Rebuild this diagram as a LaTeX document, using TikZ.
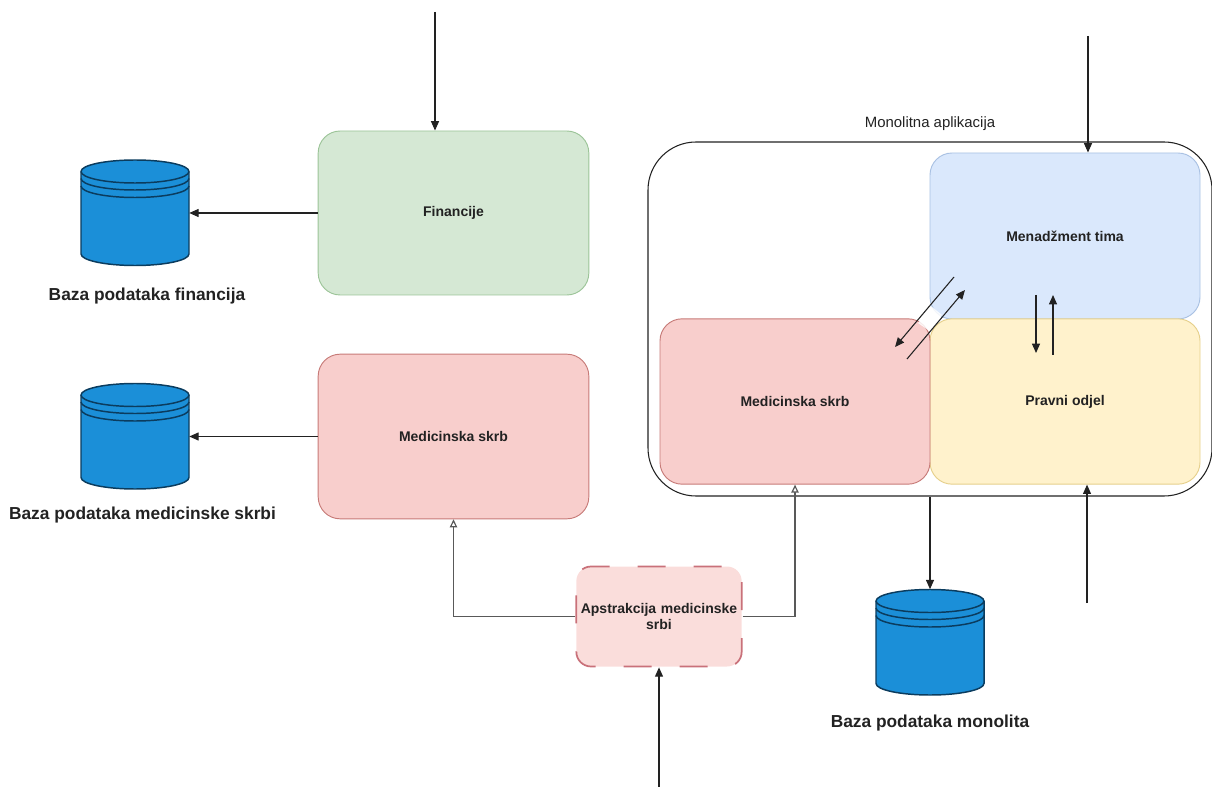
\documentclass[tikz,border=0pt]{standalone}
\usepackage{fontspec}
\setmainfont{Liberation Sans}
\usetikzlibrary{arrows.meta}
\definecolor{grF}{HTML}{D5E8D4}\definecolor{grD}{HTML}{9CC498}
\definecolor{reF}{HTML}{F8CECC}\definecolor{reD}{HTML}{C77B78}
\definecolor{blF}{HTML}{DAE8FC}\definecolor{blD}{HTML}{A9C1E3}
\definecolor{yeF}{HTML}{FFF2CC}\definecolor{yeD}{HTML}{E6D08C}
\definecolor{abF}{HTML}{FADDDB}\definecolor{abD}{HTML}{C9717A}
\definecolor{dbF}{HTML}{1B8FD8}\definecolor{dbD}{HTML}{0B3C5E}
\definecolor{ink}{HTML}{222222}
\tikzset{
  x=0.75pt,y=-0.75pt,
  boxbase/.style={rounded corners=16.5pt,inner sep=0pt,line width=0.7pt,text=ink,
    font=\fontsize{10.5}{12.5}\selectfont\bfseries,align=center},
  cyl/.style={draw=dbD,fill=dbF,line width=1.1pt},
  dbnode/.style={minimum width=81pt,minimum height=79.5pt,inner sep=0pt},
  dblabel/.style={font=\fontsize{13}{15}\selectfont\bfseries,text=ink,inner sep=0pt},
  conn/.style={draw=ink,line width=0.8pt,-{Triangle[length=7pt,width=6pt]}},
  inh/.style={draw=ink!75,line width=0.9pt,-{Triangle[open,fill=white,length=6pt,width=5.5pt]}},
}
\newcommand{\dbdraw}[1]{%
  \begin{scope}[shift={(#1.center)}]
    \draw[cyl] (-54,-41.5) -- (-54,41) arc[x radius=54,y radius=11.5,start angle=180,end angle=0] -- (54,-41.5)
       arc[x radius=54,y radius=11.5,start angle=0,end angle=-180] -- cycle;
    \draw[cyl,fill=none] (-54,-41.5) arc[x radius=54,y radius=11.5,start angle=180,end angle=0];
    \draw[cyl,fill=none] (-54,-34.5) arc[x radius=54,y radius=11.5,start angle=180,end angle=0];
    \draw[cyl,fill=none] (-54,-27) arc[x radius=54,y radius=11.5,start angle=180,end angle=0];
  \end{scope}}
\begin{document}
\begin{tikzpicture}
\useasboundingbox (0,0) rectangle (1212,787);
% left boxes
\node[boxbase,draw=grD,fill=grF,minimum width=203pt,minimum height=123pt] (fin) at (453.5,213) {Financije};
\node[boxbase,draw=reD,fill=reF,minimum width=203pt,minimum height=123.5pt] (med) at (453.5,436.5) {Medicinska skrb};
% monolith
\node[rounded corners=36pt,draw=ink,fill=white,line width=0.8pt,minimum width=423pt,minimum height=265.5pt,inner sep=0pt] (mono) at (930,319) {};
\node[font=\fontsize{11.2}{13}\selectfont,text=ink,inner sep=0pt] (monolabel) at (930,124) {Monolitna aplikacija};
\node[boxbase,draw=blD,fill=blF,minimum width=202.5pt,minimum height=124.5pt] (tim) at (1065,236) {Menadžment tima};
\node[boxbase,draw=yeD,fill=yeF,minimum width=202.5pt,minimum height=124pt] (prav) at (1065,401.5) {Pravni odjel};
\node[boxbase,draw=reD,fill=reF,minimum width=202.5pt,minimum height=124pt] (med2) at (795,401.5) {Medicinska skrb};
\fill[white,opacity=.85] (932,307) -- (942,315) -- (928,330) -- (918,323) -- cycle;
% abstraction
\node[boxbase,rounded corners=11pt,draw=abD,fill=abF,line width=1.3pt,dash pattern=on 21pt off 21pt,dash phase=38pt,minimum width=124pt,minimum height=75pt,text width=122pt] (abs) at (659,616.5) {Apstrakcija medicinske\\srbi};
% databases
\node[dbnode] (db1) at (135,213) {};
\node[dbnode] (db2) at (135,436.5) {};
\node[dbnode] (db3) at (930,642.5) {};
\dbdraw{db1}\dbdraw{db2}\dbdraw{db3}
\node[dblabel] (l1) at (147,296) {Baza podataka financija};
\node[dblabel] (l2) at (142.5,515) {Baza podataka medicinske skrbi};
\node[dblabel] (l3) at (930,723) {Baza podataka monolita};
% free ends
\coordinate (t1) at (435,12);
\coordinate (t2) at (1088,36);
\coordinate (b1) at (1087,603);
\coordinate (b2) at (659,787);
\coordinate (a1s) at (954,277); \coordinate (a1e) at (895,347);
\coordinate (a2s) at (907,359); \coordinate (a2e) at (965,290);
\coordinate (a3s) at (1036,295); \coordinate (a3e) at (1036,353);
\coordinate (a4s) at (1053,355); \coordinate (a4e) at (1053,295);
% connectors
\draw[conn] (t1) -- (t1 |- fin.north);
\draw[conn] (t2) -- (t2 |- tim.north);
\draw[conn] (fin.west) -- (db1.east);
\draw[conn] (med.west) -- (db2.east);
\draw[conn] (mono.south) -- (db3.north);
\draw[conn] (b1) -- (b1 |- prav.south);
\draw[conn] (b2) -- (abs.south);
\draw[conn] (a1s) -- (a1e);
\draw[conn] (a2s) -- (a2e);
\draw[conn] (a3s) -- (a3e);
\draw[conn] (a4s) -- (a4e);
\draw[inh] (abs.west) -| (med.south);
\draw[inh] (abs.east) -| (med2.south);
\end{tikzpicture}
\end{document}
